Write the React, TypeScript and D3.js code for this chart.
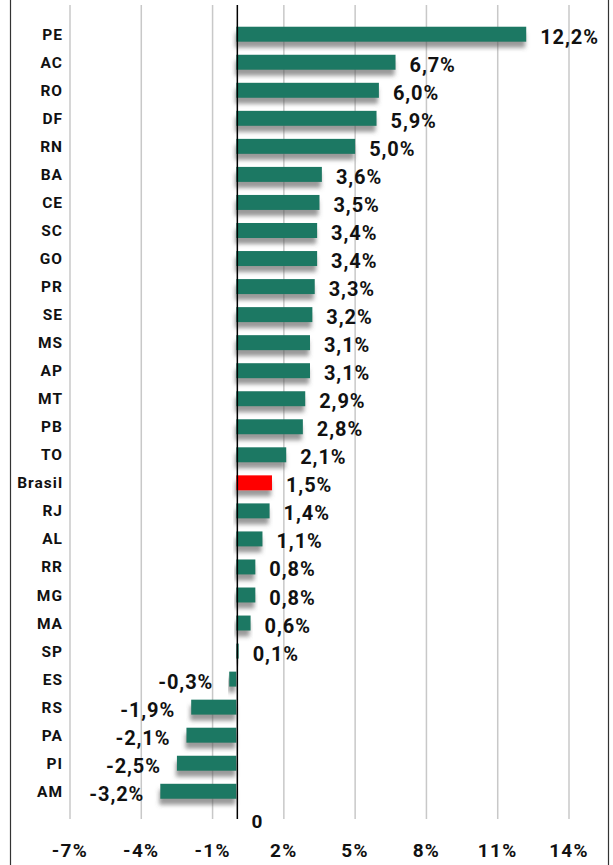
import * as d3 from "d3";

const categories = [
  "PE", "AC", "RO", "DF", "RN", "BA", "CE", "SC", "GO", "PR", "SE", "MS", "AP", "MT",
  "PB", "TO", "Brasil", "RJ", "AL", "RR", "MG", "MA", "SP", "ES", "RS", "PA", "PI", "AM",
];
const values = [
  12.2, 6.7, 6.0, 5.9, 5.0, 3.6, 3.5, 3.4, 3.4, 3.3, 3.2, 3.1, 3.1, 2.9,
  2.8, 2.1, 1.5, 1.4, 1.1, 0.8, 0.8, 0.6, 0.1, -0.3, -1.9, -2.1, -2.5, -3.2,
];
const tickValues = [-7, -4, -1, 2, 5, 8, 11, 14];

const width = 613;
const height = 865;
const green = "#1f7864";
const font = "Roboto, 'Noto Sans', sans-serif";

const fmt = (v: number) => v.toFixed(1).replace(".", ",") + "%";

export default function App() {
  const x = d3.scaleLinear().domain([-7, 14]).range([70, 569]);
  const y = d3
    .scaleBand<string>()
    .domain(categories)
    .range([20.2, 805.3])
    .paddingInner(0.465)
    .paddingOuter(0.2325);

  const data = categories.map((c, i) => ({ name: c, value: values[i] }));
  const x0 = x(0);
  const gridTop = 5;
  const gridBottom = 819;

  return (
    <svg
      width={width}
      height={height}
      style={{ position: "absolute", left: 0, top: 0, background: "#fff" }}
      fontFamily={font}
    >
      <defs>
        <filter id="shadow" x="-10%" y="-50%" width="120%" height="260%">
          <feDropShadow dx="-1" dy="6" stdDeviation="2" floodColor="#555" floodOpacity="0.6" />
        </filter>
      </defs>
      <rect x={0} y={0} width={width} height={height} fill="#fff" />

      {/* frame */}
      <line x1={10.5} x2={10.5} y1={0} y2={height} stroke="#333" strokeWidth={1.2} />
      <line x1={608.5} x2={608.5} y1={0} y2={height} stroke="#333" strokeWidth={1.2} />

      {/* gridlines */}
      {tickValues.map((t) => (
        <line
          key={t}
          x1={x(t)}
          x2={x(t)}
          y1={gridTop}
          y2={gridBottom}
          stroke="#c8c8c8"
          strokeWidth={1.5}
        />
      ))}

      {/* bars */}
      {data.map((d) => {
        const by = y(d.name)!;
        return (
          <rect
            key={d.name}
            x={Math.min(x(d.value), x0)}
            y={by}
            width={Math.max(Math.abs(x(d.value) - x0), 1.5)}
            height={y.bandwidth()}
            fill={d.name === "Brasil" ? "#ff0000" : green}
            filter="url(#shadow)"
          />
        );
      })}

      {/* zero line */}
      <line x1={x0 + 1} x2={x0 + 1} y1={gridTop} y2={gridBottom} stroke="#000" strokeWidth={1.5} />

      {/* category labels */}
      {data.map((d) => (
        <text
          key={d.name}
          x={63}
          y={y(d.name)! + y.bandwidth() / 2 + 5.5}
          textAnchor="end"
          fontSize={15.5}
          fontWeight="bold"
          letterSpacing={1}
          fill="#111"
        >
          {d.name}
        </text>
      ))}

      {/* value labels */}
      {data.map((d) => {
        const cy = y(d.name)! + y.bandwidth() / 2;
        const pos = d.value >= 0;
        return (
          <text
            key={d.name}
            x={pos ? x(d.value) + 14 : x(d.value) - 16}
            y={cy + 9.5}
            textAnchor={pos ? "start" : "end"}
            fontSize={20}
            fontWeight="bold"
            letterSpacing={0.9}
            fill="#111"
          >
            {fmt(d.value)}
          </text>
        );
      })}

      {/* zero label */}
      <text x={257} y={828} textAnchor="middle" fontSize={19} fontWeight="bold" fill="#111">
        0
      </text>

      {/* x tick labels */}
      {tickValues.map((t) => (
        <text
          key={t}
          x={x(t)}
          y={857}
          textAnchor="middle"
          fontSize={19}
          fontWeight="bold"
          letterSpacing={1.3}
          fill="#111"
        >
          {t + "%"}
        </text>
      ))}
    </svg>
  );
}
